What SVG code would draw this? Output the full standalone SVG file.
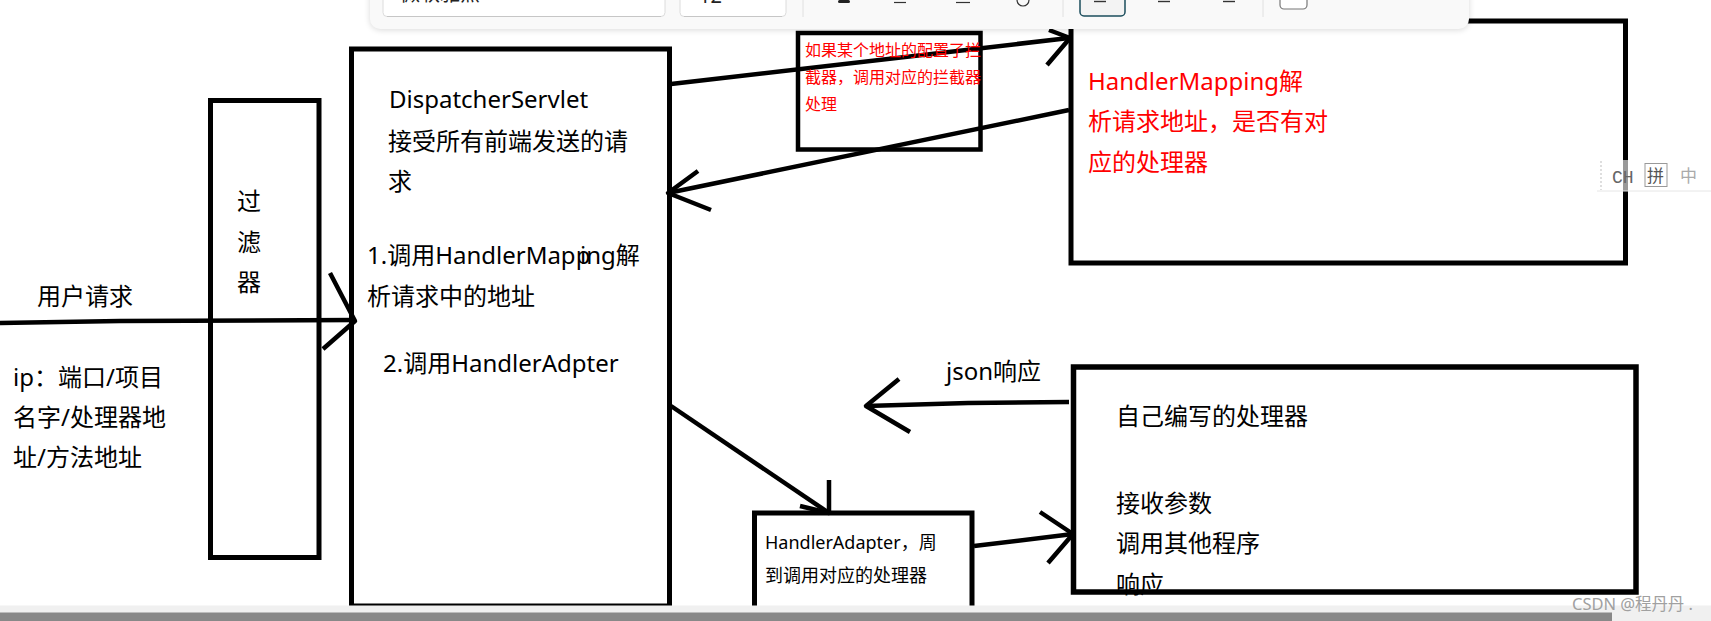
<svg xmlns="http://www.w3.org/2000/svg" width="1711" height="621" viewBox="0 0 1711 621">
<style>
.box{fill:none;stroke:#000;stroke-width:5}
.ln{fill:none;stroke:#000;stroke-width:4.5;stroke-linejoin:round;stroke-linecap:butt}
.t{font-family:"Noto Sans","Noto Sans CJK SC",sans-serif;font-size:24px;fill:#000}
.r{fill:#f00}
.s16{font-size:16px}
.s18{font-size:18px}
.ui{font-family:"Noto Sans","Noto Sans CJK SC",sans-serif;fill:#222}
</style>
<defs>
<filter id="sh" x="-5%" y="-50%" width="110%" height="200%"><feGaussianBlur stdDeviation="3"/></filter>
<clipPath id="topclip"><rect x="0" y="0" width="1711" height="17"/></clipPath>
</defs>
<rect width="1711" height="621" fill="#fff"/>

<g id="filter">
<rect class="box" x="210.5" y="100.5" width="108.5" height="457"/>
<text class="t" x="237" y="210">过</text>
<text class="t" x="237" y="251">滤</text>
<text class="t" x="237" y="291">器</text>
</g>

<g id="user-request">
<text class="t" x="37" y="305">用户请求</text>
<text class="t" x="13" y="386">ip：端口/项目</text>
<text class="t" x="13" y="426">名字/处理器地</text>
<text class="t" x="13" y="466">址/方法地址</text>
</g>

<g id="dispatcher">
<rect class="box" x="351.5" y="49" width="318" height="557"/>
<text class="t" x="389" y="108">DispatcherServlet</text>
<text class="t" x="388" y="150">接受所有前端发送的请</text>
<text class="t" x="388" y="190">求</text>
<text class="t" x="367" y="264">1.调用HandlerMapp</text>
<text class="t" x="580" y="264">ing解</text>
<text class="t" x="367" y="305">析请求中的地址</text>
<text class="t" x="383" y="372">2.调用HandlerAdpter</text>
</g>

<g id="interceptor">
<rect class="box" x="798" y="33" width="182.5" height="116.5" style="stroke-width:4.5"/>
</g>

<g id="handler-mapping">
<rect class="box" x="1071" y="21" width="554.5" height="242"/>
<text class="t r" x="1088" y="90">HandlerMapping解</text>
<text class="t r" x="1088" y="130">析请求地址，是否有对</text>
<text class="t r" x="1088" y="171">应的处理器</text>
</g>

<g id="handler-adapter">
<rect class="box" x="754.5" y="513" width="217.5" height="100"/>
<text class="t s18" x="765" y="549">HandlerAdapter，周</text>
<text class="t s18" x="765" y="582">到调用对应的处理器</text>
</g>

<g id="handler">
<text class="t" x="1116" y="425">自己编写的处理器</text>
<text class="t" x="1116" y="512">接收参数</text>
<text class="t" x="1116" y="552">调用其他程序</text>
<text class="t" x="1116" y="593">响应</text>
<rect class="box" x="1073.5" y="367" width="562.5" height="225" style="stroke-width:5.5"/>
</g>

<g id="connectors">
<polyline class="ln" points="0,323 120,321 355,320"/>
<polyline class="ln" points="330,273 355,321 323,349"/>
<line class="ln" x1="671" y1="84" x2="1069" y2="38"/>
<polyline class="ln" points="1049,30 1070,38 1047,65"/>
<line class="ln" x1="1069" y1="110" x2="668" y2="193"/>
<polyline class="ln" points="698,171 668,193 711,210"/>
<line class="ln" x1="671" y1="406" x2="829" y2="513"/>
<polyline class="ln" points="829,480 829,513 800,506"/>
<line class="ln" x1="974" y1="546" x2="1073" y2="534"/>
<polyline class="ln" points="1040,512 1073,534 1048,563"/>
<polyline class="ln" points="1069,402 968,403 866,406"/>
<polyline class="ln" points="899,379 866,406 910,432"/>
<text class="t" x="946" y="380">json响应</text>
</g>

<g id="interceptor-text">
<text class="t r s16" x="805" y="56">如果某个地址的配置了拦</text>
<text class="t r s16" x="805" y="83">截器，调用对应的拦截器</text>
<text class="t r s16" x="805" y="110">处理</text>
</g>

<g id="toolbar">
<rect x="370" y="-20" width="1099" height="50" rx="10" fill="#000" opacity="0.15" filter="url(#sh)"/>
<rect x="370" y="-20" width="1099" height="49" rx="10" fill="#f9f9f9"/>
<rect x="383" y="-12" width="282" height="28.5" rx="4" fill="#fff" stroke="#dcdcdc"/>
<line x1="387" y1="16.5" x2="661" y2="16.5" stroke="#c6c6c6"/>
<rect x="680" y="-12" width="106" height="28.5" rx="4" fill="#fff" stroke="#dcdcdc"/>
<line x1="684" y1="16.5" x2="782" y2="16.5" stroke="#c6c6c6"/>
<g clip-path="url(#topclip)">
<text class="ui" x="400" y="1" font-size="20">微软雅黑</text>
<text class="ui" x="699" y="2.5" font-size="20">12</text>
</g>
<line x1="803" y1="0" x2="803" y2="17" stroke="#e0e0e0"/>
<rect x="838" y="0" width="12" height="3" rx="1.5" fill="#222"/>
<line x1="894" y1="2.5" x2="906" y2="2.5" stroke="#333" stroke-width="1.2"/>
<line x1="956" y1="2.5" x2="970" y2="2.5" stroke="#333" stroke-width="1.2"/>
<path d="M1017,0 a6,6 0 0 0 12,0" fill="none" stroke="#333" stroke-width="1.2"/>
<line x1="1063" y1="0" x2="1063" y2="17" stroke="#e0e0e0"/>
<rect x="1080" y="-12" width="45" height="28" rx="4" fill="#f3f3f3" stroke="#1b4d5c" stroke-width="1.5"/>
<line x1="1094" y1="1.5" x2="1106" y2="1.5" stroke="#333" stroke-width="1.4"/>
<line x1="1158" y1="1.5" x2="1170" y2="1.5" stroke="#333" stroke-width="1.4"/>
<line x1="1223" y1="1.5" x2="1235" y2="1.5" stroke="#333" stroke-width="1.4"/>
<line x1="1263" y1="0" x2="1263" y2="17" stroke="#e0e0e0"/>
<rect x="1280" y="-12" width="27" height="21" rx="4" fill="#fff" stroke="#777" stroke-width="1.2"/>
</g>

<g id="ime-bar">
<rect x="1597" y="160" width="114" height="31" fill="#fff" opacity="0.6"/>
<line x1="1597" y1="191" x2="1711" y2="191" stroke="#e6e6e6"/>
<line x1="1601" y1="161" x2="1601" y2="190" stroke="#bdbdbd" stroke-dasharray="2,2"/>
<text x="1612" y="183" font-family="Liberation Mono, monospace" font-size="18" fill="#666">CH</text>
<rect x="1645" y="163.5" width="22" height="23" fill="none" stroke="#999"/>
<text x="1647" y="182" font-family="Noto Sans CJK SC, sans-serif" font-size="17" fill="#555">拼</text>
<text x="1680" y="182" font-family="Noto Sans CJK SC, sans-serif" font-size="17" fill="#aaa">中</text>
</g>

<g id="statusbar">
<rect x="0" y="605.5" width="1711" height="15.5" fill="#f0f0f0"/>
<rect x="0" y="612.5" width="1612" height="8.5" fill="#888"/>
<text x="1572" y="610" font-family="Noto Sans, Noto Sans CJK SC, sans-serif" font-size="16.5" fill="#a0a0a0" textLength="121" lengthAdjust="spacing">CSDN @程丹丹 .</text>
</g>
</svg>
